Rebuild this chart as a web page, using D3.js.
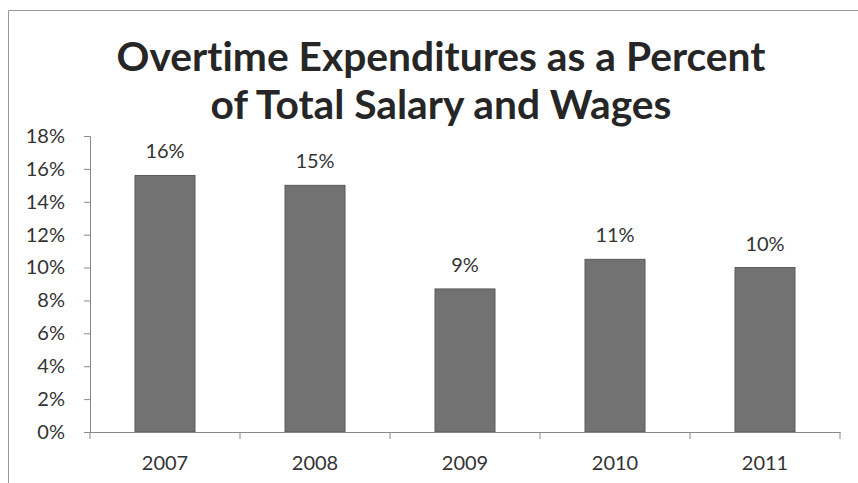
<!DOCTYPE html>
<html><head><meta charset="utf-8">
<script src="https://cdn.jsdelivr.net/npm/d3@7"></script>
<style>body{margin:0;background:#fff}svg{display:block}text{font-variant-ligatures:none;font-feature-settings:"liga" 0}</style>
</head><body>
<script>
const years = ["2007","2008","2009","2010","2011"];
const values = [15.6, 15.0, 8.7, 10.5, 10.0];
const labels = ["16%","15%","9%","11%","10%"];
const yTicks = [0,2,4,6,8,10,12,14,16,18];
const titleLines = ["Overtime Expenditures as a Percent","of Total Salary and Wages"];

const W=858,H=483;
const svg=d3.select("body").append("svg").attr("width",W).attr("height",H);
const font="Lato, 'Open Sans', sans-serif";
// frame
svg.append("path").attr("d","M8.5,483 V10.5 H858").attr("fill","none").attr("stroke","#999").attr("stroke-width",1);

const x=d3.scaleBand().domain(years).range([90,840]).paddingInner(0.6).paddingOuter(0.3);
const y=d3.scaleLinear().domain([0,18]).range([432,136]);

const tt=svg.append("g").selectAll("text").data(titleLines).join("text")
 .attr("x",441).attr("y",(d,i)=>71+i*48).attr("text-anchor","middle")
 .attr("font-family",font).attr("font-weight","bold").attr("font-size",38).attr("fill","#262626").text(d=>d);
// scale title so first line spans the same width as in the reference
const w0=tt.node().getComputedTextLength();
const fs=38*649/w0;
tt.attr("font-size",fs);

// bars
svg.append("g").selectAll("rect").data(values).join("rect")
 .attr("x",(d,i)=>x(years[i])).attr("width",x.bandwidth())
 .attr("y",d=>y(d)).attr("height",d=>y(0)-y(d))
 .attr("fill","#727272").attr("stroke","#5a5a5a").attr("stroke-width",1);

svg.append("g").selectAll("text").data(values).join("text")
 .attr("x",(d,i)=>x(years[i])+x.bandwidth()/2).attr("y",d=>y(d)-17)
 .attr("text-anchor","middle").attr("font-family",font).attr("font-size",20).attr("fill","#333")
 .text((d,i)=>labels[i]);

// y axis
const ya=svg.append("g").attr("transform","translate(90,0)")
 .call(d3.axisLeft(y).tickValues(yTicks).tickFormat(d=>d+"%").tickSize(6).tickPadding(19));
ya.select(".domain").attr("stroke","#888");
ya.selectAll(".tick line").attr("stroke","#888");
ya.selectAll("text").attr("font-family",font).attr("font-size",20).attr("fill","#333");

// x axis
const xOuter=d3.scaleBand().domain(years).range([90,840]);
const xa=svg.append("g").attr("transform","translate(0,432)")
 .call(d3.axisBottom(xOuter).tickSize(0).tickPadding(24));
xa.select(".domain").attr("stroke","#888");
xa.selectAll("text").attr("font-family",font).attr("font-size",20).attr("fill","#333");
xa.selectAll(".sep").data(d3.range(years.length+1)).join("line").attr("class","sep")
 .attr("x1",i=>90+i*xOuter.step()).attr("x2",i=>90+i*xOuter.step())
 .attr("y1",0).attr("y2",7).attr("stroke","#888");
</script>
</body></html>
